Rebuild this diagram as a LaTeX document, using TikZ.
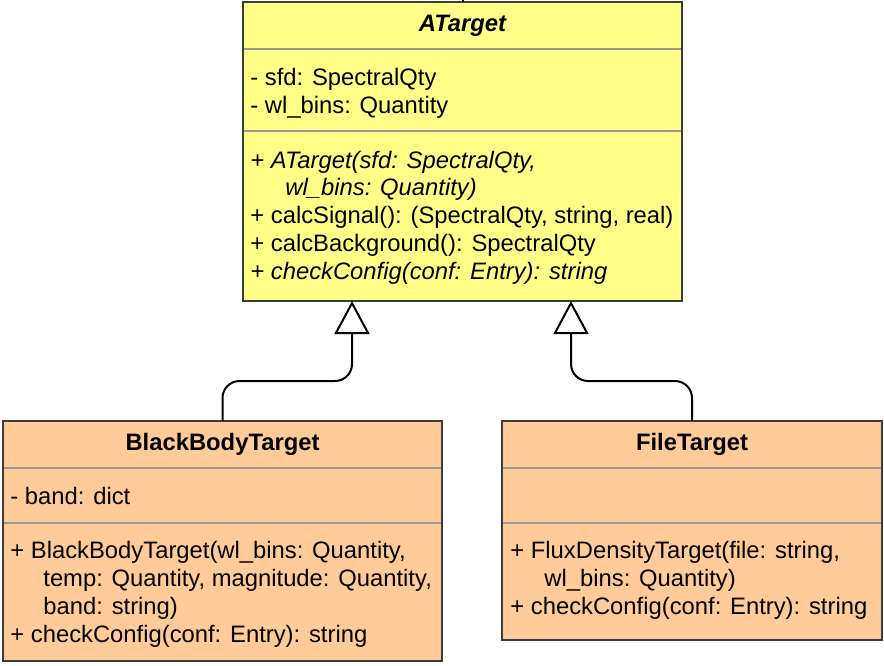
\documentclass[tikz,border=0pt]{standalone}
\usepackage{fontspec}
\setmainfont{Liberation Sans}
\usetikzlibrary{arrows.meta}
\definecolor{umlyellow}{HTML}{FFFF88}
\definecolor{umlorange}{HTML}{FFCC99}
\definecolor{umlborder}{HTML}{3C3C3C}
\definecolor{umlsep}{HTML}{999999}
\begin{document}
\begin{tikzpicture}[x=0.5pt,y=-0.5pt,
  box/.style={draw=umlborder, line width=1pt, rectangle, inner sep=0pt, outer sep=0pt, anchor=north west},
  sepline/.style={draw=umlsep, line width=1pt},
  txt/.style={anchor=base west, inner sep=0pt, font=\fontsize{11.9}{14}\selectfont},
  ttl/.style={anchor=base, inner sep=0pt, font=\fontsize{11.9}{14}\selectfont\bfseries},
  inh/.style={line width=1pt, rounded corners=8.5pt, -{Triangle[length=16.5pt, width=17.5pt, fill=white]}}
]
\useasboundingbox (0,0) rectangle (884,665);

% boxes
\node[box, fill=umlyellow, minimum width=219.5pt, minimum height=149.5pt] (atarget) at (243,2) {};
\node[box, fill=umlorange, minimum width=219.5pt, minimum height=120pt] (bbt) at (3,421) {};
\node[box, fill=umlorange, minimum width=190pt, minimum height=109.5pt] (ft) at (502,421) {};

% separators
\draw[sepline] ([yshift=-23.5pt]atarget.north west) -- ([yshift=-23.5pt]atarget.north east);
\draw[sepline] ([yshift=-64.5pt]atarget.north west) -- ([yshift=-64.5pt]atarget.north east);
\draw[sepline] ([yshift=-23.5pt]bbt.north west) -- ([yshift=-23.5pt]bbt.north east);
\draw[sepline] ([yshift=-51pt]bbt.north west) -- ([yshift=-51pt]bbt.north east);
\draw[sepline] ([yshift=-23.5pt]ft.north west) -- ([yshift=-23.5pt]ft.north east);
\draw[sepline] ([yshift=-51pt]ft.north west) -- ([yshift=-51pt]ft.north east);
% redraw borders on top
\node[box, minimum width=219.5pt, minimum height=149.5pt] (atargetB) at (243,2) {};
\node[box, minimum width=219.5pt, minimum height=120pt] (bbtB) at (3,421) {};
\node[box, minimum width=190pt, minimum height=109.5pt] (ftB) at (502,421) {};

% ATarget text
\node[ttl, font=\fontsize{11.9}{14}\selectfont\bfseries\itshape] (attitle) at (462.5,31) {ATarget};
\node[txt] (ata1) at (250,85) {- sfd: SpectralQty};
\node[txt] (ata2) at (250,113) {- wl\_bins: Quantity};
\node[txt] (atm1) at (250,168) {\itshape + ATarget(sfd: SpectralQty,};
\node[txt] (atm1b) at (285,195) {\itshape wl\_bins: Quantity)};
\node[txt] (atm2) at (250,223) {+ calcSignal(): (SpectralQty, string, real)};
\node[txt] (atm3) at (250,251) {+ calcBackground(): SpectralQty};
\node[txt] (atm4) at (250,279) {\itshape + checkConfig(conf: Entry): string};

% BlackBodyTarget text
\node[ttl] (bbttitle) at (222.5,450) {BlackBodyTarget};
\node[txt] (bbta1) at (10,504) {- band: dict};
\node[txt] (bbtm1) at (10,558) {+ BlackBodyTarget(wl\_bins: Quantity,};
\node[txt] (bbtm1b) at (43,586) {temp: Quantity, magnitude: Quantity,};
\node[txt] (bbtm1c) at (43,614) {band: string)};
\node[txt] (bbtm2) at (10,642) {+ checkConfig(conf: Entry): string};

% FileTarget text
\node[ttl] (fttitle) at (692,450) {FileTarget};
\node[txt] (ftm1) at (510,558) {+ FluxDensityTarget(file: string,};
\node[txt] (ftm1b) at (544,586) {wl\_bins: Quantity)};
\node[txt] (ftm2) at (510,614) {+ checkConfig(conf: Entry): string};

% connectors
\coordinate (topend) at (462.5,0);
\draw[line width=1pt] (atarget.north) -- (topend);
\draw[inh] (bbt.north) |- ([xshift=-55.25pt,yshift=-40pt]atarget.south) -- ([xshift=-55.25pt]atarget.south);
\draw[inh] (ft.north) |- ([xshift=54.25pt,yshift=-40pt]atarget.south) -- ([xshift=54.25pt]atarget.south);
\end{tikzpicture}
\end{document}
